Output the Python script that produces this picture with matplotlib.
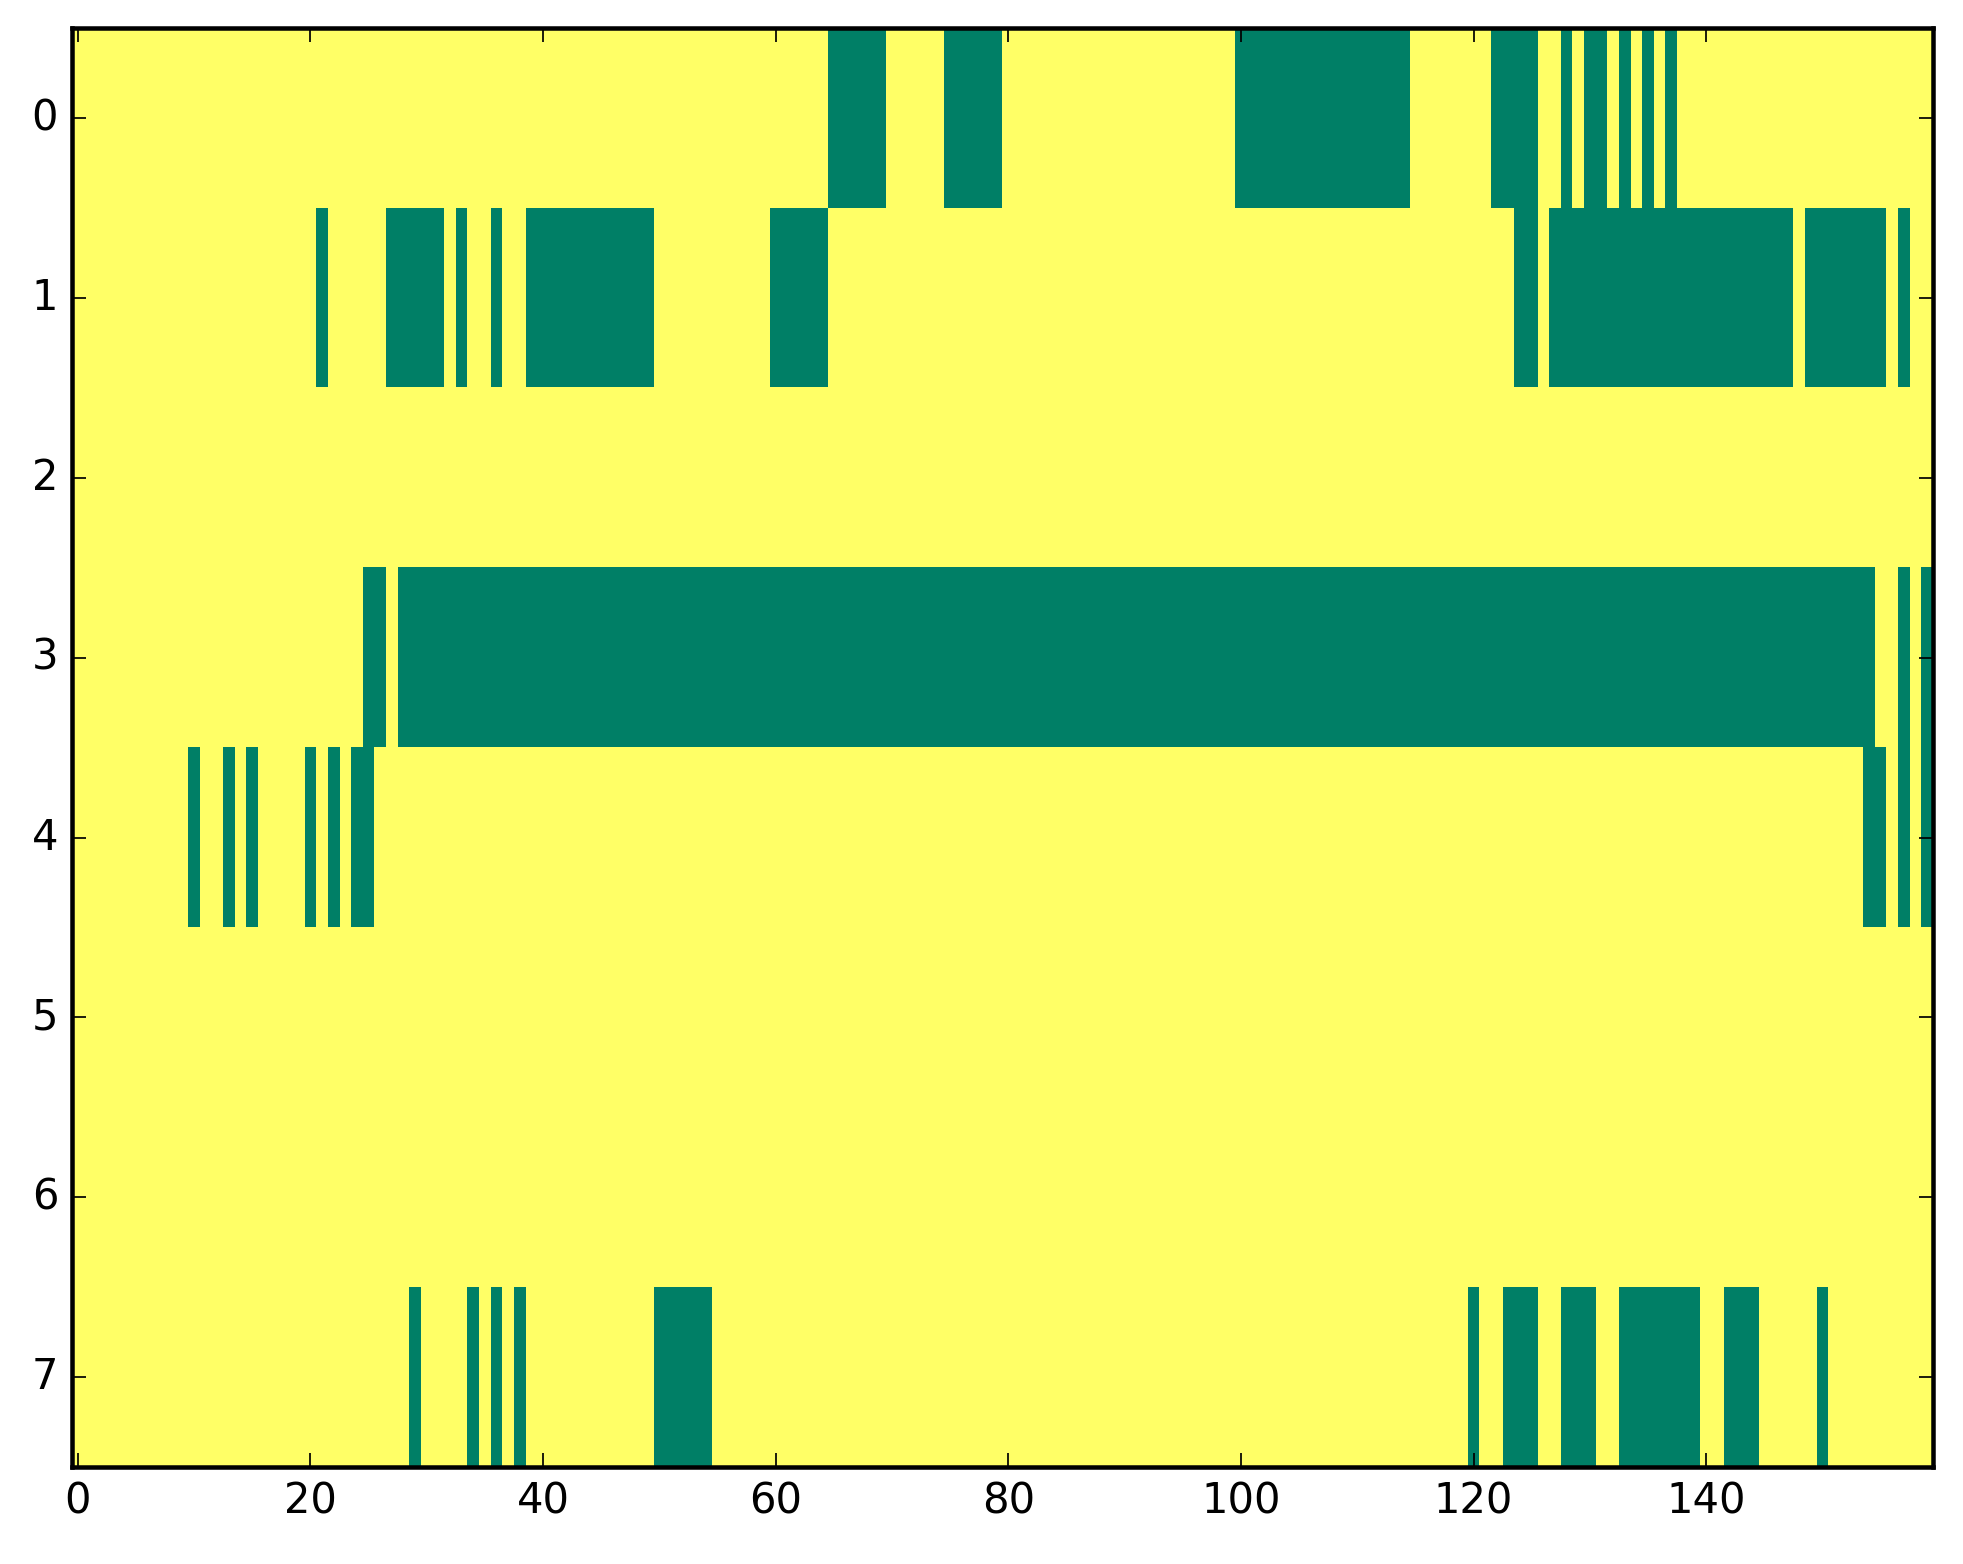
import numpy as np
import matplotlib
matplotlib.use("Agg")
import matplotlib.pyplot as plt

plt.style.use('classic')

n_rows = 8
n_cols = 160

# columns that are "off" (0 -> green in the summer map), per row
row0_off = [65, 66, 67, 68, 69, 75, 76, 77, 78, 79] + list(range(100, 115)) + \
    [122, 123, 124, 125, 128, 130, 131, 133, 135, 137]
row1_off = [21, 27, 28, 29, 30, 31, 33, 36] + list(range(39, 50)) + \
    [60, 61, 62, 63, 64, 124, 125] + list(range(127, 148)) + \
    list(range(149, 156)) + [157]
row2_off = []
row3_off = [25, 26] + list(range(28, 155)) + [157, 159]
row4_off = [10, 13, 15, 20, 22, 24, 25, 154, 155, 157, 159]
row5_off = []
row6_off = []
row7_off = [29, 34, 36, 38, 50, 51, 52, 53, 54, 120, 123, 124, 125,
            128, 129, 130] + list(range(133, 140)) + [142, 143, 144, 150]

rows_off = [row0_off, row1_off, row2_off, row3_off,
            row4_off, row5_off, row6_off, row7_off]

mask = np.ones((n_rows, n_cols))
for i, cols in enumerate(rows_off):
    mask[i, cols] = 0

fig = plt.figure(figsize=(1963 / 250, 1564 / 250), dpi=250)
ax = fig.add_axes([0.0367, 0.0620, 0.9480, 0.9200])
ax.imshow(mask, cmap='summer', aspect='auto', interpolation='nearest',
          vmin=0, vmax=1)
ax.set_xticks(range(0, 160, 20))
ax.set_yticks(range(n_rows))
ax.set_xlim(-0.5, n_cols - 0.5)
ax.set_ylim(n_rows - 0.5, -0.5)
for s in ax.spines.values():
    s.set_linewidth(1.3)

fig.savefig('out.png', dpi=250)
